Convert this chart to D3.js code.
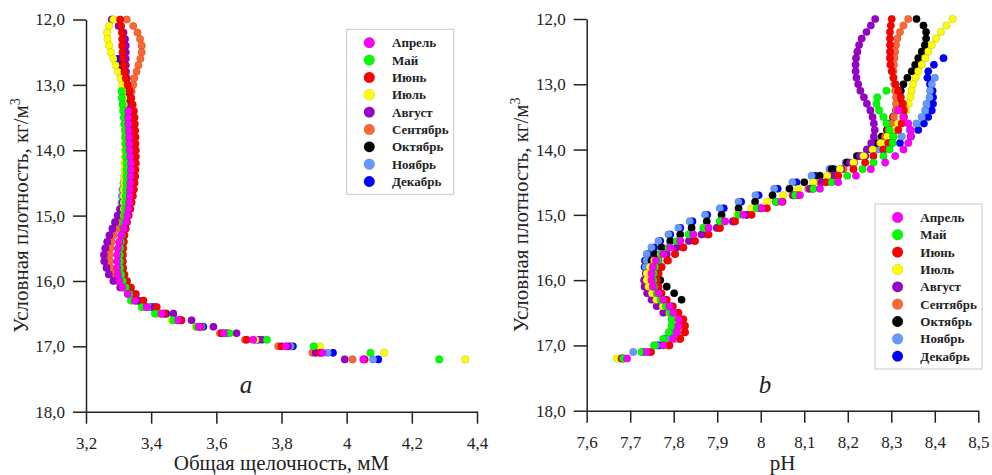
<!DOCTYPE html>
<html>
<head>
<meta charset="utf-8">
<script src="https://cdn.jsdelivr.net/npm/d3@7/dist/d3.min.js"></script>
<style>
  body { margin: 0; background: #fff; }
  svg { display: block; }
  svg text { font-family: "Liberation Serif", "Times New Roman", Times, serif; }
</style>
</head>
<body>
<svg id="chart" width="992" height="475"></svg>
<script>
// Месяцы и цвета легенды
const months = ['Апрель', 'Май', 'Июнь', 'Июль', 'Август', 'Сентябрь', 'Октябрь', 'Ноябрь', 'Декабрь'];
const colors = ['#ff00ff', '#00ff00', '#ff0000', '#ffff00', '#9900cc', '#ff6633', '#000000', '#6699ff', '#0000ff'];

// Условная плотность, кг/м3
const density = [
  12.0, 12.1, 12.2, 12.3, 12.4, 12.5, 12.6, 12.7, 12.8, 12.9,
  13.0, 13.1, 13.2, 13.3, 13.4, 13.5, 13.6, 13.7, 13.8, 13.9,
  14.0, 14.1, 14.2, 14.3, 14.4, 14.5, 14.6, 14.7, 14.8, 14.9,
  15.0, 15.1, 15.2, 15.3, 15.4, 15.5, 15.6, 15.7, 15.8, 15.9,
  16.0, 16.1, 16.2, 16.3, 16.4, 16.5, 16.6, 16.7, 16.8, 16.9,
  17.0, 17.1, 17.2
];

const N = null;

// Общая щелочность, мМ
const alkApr = [
  N, N, N, N, N, N, N, N, N, N,
  N, N, N, N, 3.330, 3.329, 3.330, 3.331, 3.332, 3.333,
  3.334, 3.336, 3.338, 3.338, 3.337, 3.336, 3.335, 3.334, 3.332, 3.330,
  3.327, 3.323, 3.316, 3.308, 3.302, 3.298, 3.296, 3.295, 3.296, 3.298,
  3.303, 3.312, 3.328, 3.350, 3.386, 3.432, 3.483, 3.547, 3.623, 3.713,
  3.813, 3.926, 4.051
];
const alkMay = [
  N, N, N, N, N, N, N, N, N, N,
  N, 3.309, 3.310, 3.312, 3.314, 3.316, 3.318, 3.320, 3.321, 3.322,
  3.323, 3.323, 3.324, 3.324, 3.324, 3.324, 3.323, 3.322, 3.321, 3.320,
  3.318, 3.316, 3.313, 3.310, 3.307, 3.305, 3.304, 3.304, 3.305, 3.308,
  3.313, 3.322, 3.333, 3.338, 3.371, 3.412, 3.468, 3.540, 3.640, 3.755,
  3.899, 4.073, 4.284
];
const alkJun = [
  3.305, 3.308, 3.310, 3.311, 3.311, 3.312, 3.313, 3.315, 3.318, 3.322,
  3.328, 3.334, 3.339, 3.343, 3.347, 3.349, 3.350, 3.351, 3.352, 3.352,
  3.353, 3.353, 3.353, 3.352, 3.351, 3.349, 3.347, 3.344, 3.340, 3.336,
  3.331, 3.326, 3.322, 3.318, 3.316, 3.314, 3.313, 3.313, 3.314, 3.318,
  3.326, 3.338, 3.353, 3.376, 3.417, 3.442, 3.493, 3.550, 3.616, 3.693,
  3.800, 3.918, 4.055
];
const alkJul = [
  3.284, 3.271, 3.265, 3.266, 3.271, 3.276, 3.284, 3.291, 3.298, 3.306,
  3.311, 3.313, 3.315, 3.316, 3.317, 3.318, 3.318, 3.319, 3.319, 3.319,
  3.319, 3.319, 3.318, 3.318, 3.317, 3.317, 3.316, 3.316, 3.316, 3.316,
  3.316, 3.317, 3.317, 3.317, 3.316, 3.315, 3.314, 3.313, 3.313, 3.314,
  3.317, 3.322, 3.330, 3.345, 3.375, 3.420, 3.463, 3.537, 3.620, 3.720,
  3.918, 4.115, 4.364
];
const alkAug = [
  3.279, 3.300, 3.315, 3.320, 3.322, 3.322, 3.322, 3.322, 3.323, 3.325,
  3.327, 3.329, 3.331, 3.333, 3.335, 3.336, 3.337, 3.338, 3.338, 3.338,
  3.338, 3.338, 3.337, 3.336, 3.334, 3.331, 3.327, 3.321, 3.313, 3.304,
  3.297, 3.289, 3.281, 3.272, 3.265, 3.259, 3.255, 3.256, 3.263, 3.270,
  3.284, 3.305, 3.330, 3.360, 3.410, 3.468, 3.524, 3.591, 3.662, 3.740,
  3.820, 3.905, 3.994
];
const alkSep = [
  3.325, 3.345, 3.358, 3.366, 3.371, 3.371, 3.367, 3.361, 3.355, 3.348,
  3.345, 3.340, 3.337, 3.336, 3.336, 3.337, 3.338, 3.339, 3.340, 3.340,
  3.340, 3.340, 3.340, 3.339, 3.338, 3.336, 3.333, 3.328, 3.322, 3.316,
  3.309, 3.301, 3.293, 3.285, 3.279, 3.275, 3.273, 3.273, 3.276, 3.283,
  3.296, 3.313, 3.330, 3.352, 3.385, 3.430, 3.480, 3.545, 3.611, 3.688,
  3.790, 3.895, 4.018
];
const alkOct = [];
const alkNov = [
  N, N, N, N, N, N, N, N, N, 3.312,
  3.314, 3.316, 3.318, 3.320, 3.322, 3.323, 3.324, 3.325, 3.325, 3.325,
  3.325, 3.324, 3.323, 3.321, 3.318, 3.315, 3.312, 3.310, 3.309, 3.310,
  3.311, 3.312, 3.312, 3.311, 3.310, 3.309, 3.308, 3.308, 3.309, 3.312,
  3.318, 3.326, 3.336, 3.356, 3.395, 3.440, 3.486, 3.555, 3.630, 3.722,
  3.828, 3.942, 4.081
];
const alkDec = [
  N, N, N, N, N, N, 3.299, 3.305, 3.309, 3.312,
  3.315, 3.317, 3.319, 3.321, 3.323, 3.325, 3.326, 3.327, 3.327, 3.327,
  3.327, 3.327, 3.326, 3.325, 3.323, 3.321, 3.318, 3.316, 3.314, 3.313,
  3.313, 3.313, 3.313, 3.312, 3.311, 3.310, 3.309, 3.309, 3.310, 3.313,
  3.320, 3.330, 3.343, 3.361, 3.402, 3.446, 3.492, 3.560, 3.632, 3.728,
  3.835, 3.958, 4.097
];

// pH
const phApr = [
  N, N, N, N, N, N, N, N, N, N,
  N, N, N, N, 8.316, 8.328, 8.339, 8.345, 8.345, 8.339,
  8.328, 8.309, 8.286, 8.253, 8.219, 8.178, 8.136, 8.090, 8.048, 8.002,
  7.960, 7.918, 7.880, 7.845, 7.815, 7.792, 7.776, 7.759, 7.752, 7.749,
  7.749, 7.752, 7.765, 7.776, 7.790, 7.799, 7.811, 7.811, 7.807, 7.799,
  7.776, 7.738, 7.693
];
const phMay = [
  N, N, N, N, N, N, N, N, N, N,
  N, 8.289, 8.268, 8.266, 8.272, 8.282, 8.289, 8.296, 8.305, 8.303,
  8.296, 8.282, 8.259, 8.234, 8.199, 8.163, 8.121, 8.079, 8.035, 7.991,
  7.949, 7.906, 7.868, 7.834, 7.807, 7.788, 7.772, 7.764, 7.757, 7.754,
  7.753, 7.755, 7.761, 7.770, 7.782, 7.792, 7.795, 7.795, 7.789, 7.776,
  7.755, 7.726, 7.684
];
const phJun = [
  8.301, 8.299, 8.297, 8.297, 8.297, 8.297, 8.297, 8.298, 8.301, 8.305,
  8.310, 8.316, 8.322, 8.327, 8.329, 8.329, 8.324, 8.316, 8.305, 8.293,
  8.282, 8.259, 8.240, 8.213, 8.178, 8.150, 8.120, 8.085, 8.050, 8.014,
  7.979, 7.941, 7.906, 7.880, 7.849, 7.822, 7.803, 7.785, 7.772, 7.765,
  7.761, 7.765, 7.772, 7.784, 7.798, 7.811, 7.822, 7.826, 7.826, 7.815,
  7.790, 7.748, 7.680
];
const phJul = [
  8.441, 8.427, 8.414, 8.403, 8.393, 8.385, 8.378, 8.370, 8.362, 8.356,
  8.350, 8.347, 8.344, 8.340, 8.334, 8.326, 8.316, 8.305, 8.291, 8.276,
  8.257, 8.236, 8.213, 8.182, 8.153, 8.121, 8.086, 8.052, 8.015, 7.979,
  7.945, 7.910, 7.875, 7.845, 7.815, 7.790, 7.770, 7.755, 7.745, 7.738,
  7.738, 7.742, 7.750, 7.760, 7.775, 7.790, 7.805, 7.825, 7.826, 7.810,
  7.785, 7.740, 7.669
];
const phAug = [
  8.263, 8.253, 8.243, 8.232, 8.226, 8.222, 8.219, 8.218, 8.218, 8.220,
  8.224, 8.229, 8.237, 8.244, 8.252, 8.257, 8.260, 8.262, 8.260, 8.254,
  8.244, 8.228, 8.205, 8.185, 8.167, 8.140, 8.113, 8.075, 8.035, 7.998,
  7.968, 7.936, 7.899, 7.864, 7.835, 7.807, 7.784, 7.765, 7.746, 7.736,
  7.732, 7.733, 7.739, 7.749, 7.761, 7.776, N, N, N, N,
  N, N, N
];
const phSep = [
  8.339, 8.328, 8.320, 8.314, 8.311, 8.309, 8.307, 8.306, 8.305, 8.305,
  8.307, 8.309, 8.311, 8.311, 8.311, 8.306, 8.300, 8.293, 8.286, 8.274,
  8.258, 8.238, 8.215, 8.190, 8.163, 8.136, 8.109, 8.073, 8.037, 8.002,
  7.968, 7.937, 7.906, 7.876, 7.848, 7.822, 7.803, 7.788, 7.772, 7.765,
  7.761, 7.762, 7.767, 7.778, 7.792, 7.805, 7.817, 7.822, 7.820, 7.810,
  7.787, 7.745, 7.680
];
const phOct = [
  8.358, 8.374, 8.380, 8.380, 8.377, 8.370, 8.362, 8.355, 8.347, 8.337,
  8.328, 8.322, 8.319, 8.315, 8.311, 8.304, 8.297, 8.290, 8.278, 8.267,
  8.245, 8.221, 8.198, 8.163, 8.136, 8.100, 8.066, 8.027, 7.987, 7.949,
  7.910, 7.876, 7.841, 7.815, 7.792, 7.772, 7.757, 7.749, 7.750, 7.755,
  7.769, 7.784, 7.801, 7.818, N, N, N, N, N, N,
  N, N, N
];
const phNov = [
  N, N, N, N, N, N, N, N, N, 8.400,
  8.393, 8.389, 8.388, 8.381, 8.378, 8.370, 8.358, 8.342, 8.324, 8.300,
  8.270, 8.232, 8.195, 8.158, 8.117, 8.073, 8.031, 7.988, 7.949, 7.906,
  7.872, 7.837, 7.811, 7.788, 7.765, 7.749, 7.738, 7.737, 7.735, 7.738,
  7.744, 7.752, 7.762, 7.774, 7.786, 7.796, 7.803, 7.805, 7.800, 7.785,
  7.760, 7.707, N
];
const phDec = [
  N, N, N, N, N, N, 8.420, 8.398, 8.385, 8.383,
  8.389, 8.395, 8.396, 8.396, 8.393, 8.385, 8.375, 8.362, 8.345, 8.320,
  8.282, 8.240, 8.200, 8.168, 8.126, 8.082, 8.039, 7.995, 7.955, 7.915,
  7.877, 7.843, 7.815, 7.792, 7.769, 7.755, 7.742, 7.734, 7.733, 7.737,
  7.745, 7.755, 7.765, 7.776, 7.786, 7.794, 7.798, 7.798, 7.792, 7.780,
  7.765, 7.730, 7.685
];

// Деления осей
const densTicks = [12, 13, 14, 15, 16, 17, 18];
const densLabels = ['12,0', '13,0', '14,0', '15,0', '16,0', '17,0', '18,0'];
const alkTicks = [3.2, 3.4, 3.6, 3.8, 4.0, 4.2, 4.4];
const alkLabels = ['3,2', '3,4', '3,6', '3,8', '4', '4,2', '4,4'];
const phTicks = [7.6, 7.7, 7.8, 7.9, 8.0, 8.1, 8.2, 8.3, 8.4, 8.5];
const phLabels = ['7,6', '7,7', '7,8', '7,9', '8', '8,1', '8,2', '8,3', '8,4', '8,5'];

const alkSeries = [alkApr, alkMay, alkJun, alkJul, alkAug, alkSep, alkOct, alkNov, alkDec];
const phSeries = [phApr, phMay, phJun, phJul, phAug, phSep, phOct, phNov, phDec];

const FONT = '"Liberation Serif", "Times New Roman", Times, serif';
const svg = d3.select('#chart').attr('font-family', FONT);

function drawPanel(p) {
    const x = d3.scaleLinear().domain(p.xDomain).range(p.xRange);
    const y = d3.scaleLinear().domain([12, 18]).range(p.yRange);
    const g = svg.append('g');

    // точки: декабрь снизу, апрель сверху
    for (let m = months.length - 1; m >= 0; m--) {
        const pts = density
            .map((d, i) => ({ d: d, v: p.series[m][i] }))
            .filter(o => o.v != null);
        g.append('g')
            .selectAll('circle')
            .data(pts)
            .join('circle')
            .attr('cx', o => x(o.v))
            .attr('cy', o => y(o.d))
            .attr('r', 3.8)
            .attr('fill', colors[m])
            .attr('stroke', 'rgba(0,0,0,0.22)')
            .attr('stroke-width', 0.6);
    }

    const yAxis = g.append('g')
        .attr('transform', `translate(${p.xRange[0]},0)`)
        .call(d3.axisLeft(y).tickValues(densTicks).tickFormat((d, i) => densLabels[i])
            .tickSize(13).tickSizeOuter(0).tickPadding(8));
    const xAxis = g.append('g')
        .attr('transform', `translate(0,${p.yRange[1]})`)
        .call(d3.axisBottom(x).tickValues(p.ticks).tickFormat((d, i) => p.labels[i])
            .tickSize(12).tickSizeOuter(0).tickPadding(13));

    [yAxis, xAxis].forEach(a => {
        a.attr('font-family', FONT).attr('font-size', 17);
        a.select('.domain').attr('stroke', '#222').attr('stroke-width', 1.5);
        a.selectAll('.tick line').attr('stroke', '#222').attr('stroke-width', 1.5);
        a.selectAll('.tick text').attr('fill', '#222');
    });

    // подписи осей
    const cx = (p.xRange[0] + p.xRange[1]) / 2;
    g.append('text')
        .attr('x', cx).attr('y', 470)
        .attr('text-anchor', 'middle')
        .attr('fill', '#222')
        .attr('font-size', 21)
        .text(p.xTitle);

    const cy = (p.yRange[0] + p.yRange[1]) / 2;
    const yt = g.append('text')
        .attr('transform', `translate(${p.yTitleX},${cy}) rotate(-90)`)
        .attr('text-anchor', 'middle')
        .attr('fill', '#222')
        .attr('font-size', 21);
    yt.append('tspan').text('Условная плотность, кг/м');
    yt.append('tspan').attr('dy', -8).attr('font-size', 14).text('3');

    g.append('text')
        .attr('x', p.letter[0]).attr('y', p.letter[1])
        .attr('text-anchor', 'middle')
        .attr('fill', '#222')
        .attr('font-size', 25)
        .attr('font-style', 'italic')
        .text(p.letterText);

    // легенда
    const lg = g.append('g').attr('transform', `translate(${p.legend[0]},${p.legend[1]})`);
    lg.append('rect')
        .attr('width', 107).attr('height', 165)
        .attr('fill', '#fff')
        .attr('stroke', '#c8c8c8').attr('stroke-width', 1);
    months.forEach((name, i) => {
        const ry = 13.4 + i * 17.35;
        lg.append('circle')
            .attr('cx', 22.6).attr('cy', ry).attr('r', 5.4)
            .attr('fill', colors[i])
            .attr('stroke', 'rgba(0,0,0,0.2)').attr('stroke-width', 0.6);
        lg.append('text')
            .attr('x', 45.3).attr('y', ry + 4.5)
            .attr('fill', '#222')
            .attr('font-size', 13)
            .attr('font-weight', 'bold')
            .text(name);
    });
}

drawPanel({
    xDomain: [3.2, 4.4], xRange: [86, 477], yRange: [19.5, 411.7],
    ticks: alkTicks, labels: alkLabels, series: alkSeries,
    xTitle: 'Общая щелочность, мМ', yTitleX: 28,
    letter: [246, 393], letterText: 'a', legend: [346.7, 29.3]
});

drawPanel({
    xDomain: [7.6, 8.5], xRange: [586.7, 978.3], yRange: [19, 410.7],
    ticks: phTicks, labels: phLabels, series: phSeries,
    xTitle: 'pH', yTitleX: 528,
    letter: [765, 393], letterText: 'b', legend: [875, 204]
});
</script>
</body>
</html>
